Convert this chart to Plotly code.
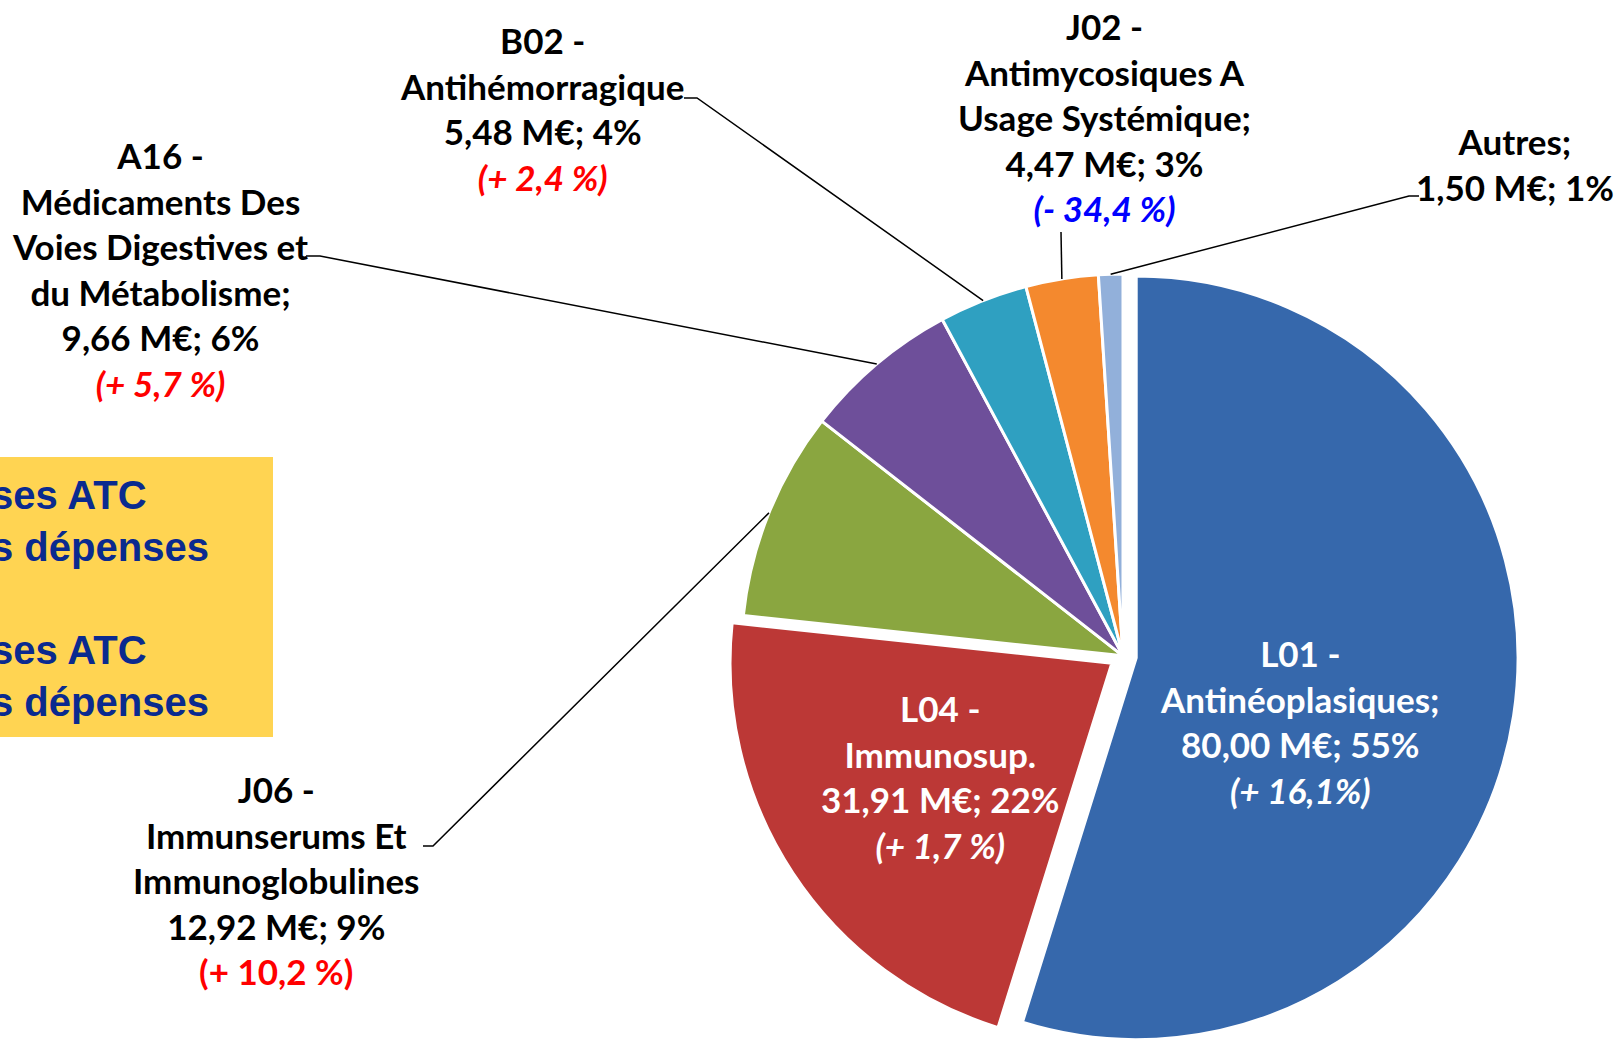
import math

import plotly.graph_objects as go

W, H = 1618, 1051

categories = ["L01", "L04", "J06", "A16", "B02", "J02", "Autres"]
name_lines = [
    ["Antinéoplasiques;"],
    ["Immunosup."],
    ["Immunserums Et", "Immunoglobulines"],
    ["Médicaments Des", "Voies Digestives et", "du Métabolisme;"],
    ["Antihémorragique"],
    ["Antimycosiques A", "Usage Systémique;"],
    ["Autres;"],
]
values = [80.00, 31.91, 12.92, 9.66, 5.48, 4.47, 1.50]
shares = [55, 22, 9, 6, 4, 3, 1]
evolutions = ["(+ 16,1%)", "(+ 1,7 %)", "(+ 10,2 %)", "(+ 5,7 %)", "(+ 2,4 %)", "(- 34,4 %)", ""]
evo_italic = [True, True, False, True, True, True, False]
inside = [True, True, False, False, False, False, False]

colors = ["#3668AC", "#BC3836", "#8AA640", "#6E4F9A", "#2FA0C1", "#F4892E", "#92B0DA"]
pulls = [0.035, 0.035, 0, 0, 0, 0, 0]

# label centres (px from top-left) and leader line anchors on the label side
label_pos = {
    "L01": (1300, 721),
    "L04": (941, 776),
    "J06": (276, 880),
    "A16": (160, 269),
    "B02": (542, 109),
    "J02": (1104, 117),
    "Autres": (1515, 164),
}
leader_start = {
    "J06": [(423, 846), (433, 846)],
    "A16": [(306, 256), (320, 256)],
    "B02": [(684, 98), (697, 98)],
    "J02": [(1061, 232)],
    "Autres": [(1419, 196), (1409, 196)],
}

dom_x = [(1123 - 450) / W, (1123 + 450) / W]
dom_y = [0.0, 0.752]


def px(x, y):
    return x / W, 1 - y / H


fig = go.Figure(
    go.Pie(
        labels=categories,
        values=values,
        sort=False,
        direction="clockwise",
        rotation=0,
        pull=pulls,
        marker=dict(colors=colors, line=dict(color="white", width=3)),
        textinfo="none",
        hoverinfo="label+value",
        domain=dict(x=dom_x, y=dom_y),
        showlegend=False,
    )
)

# pie geometry, same as plotly computes it
cx = (dom_x[0] + dom_x[1]) / 2 * W
cy = H * (1 - (dom_y[0] + dom_y[1]) / 2)
r = min(W * (dom_x[1] - dom_x[0]), H * (dom_y[1] - dom_y[0])) / 2 / (1 + max(pulls))
total = sum(values)

shapes = [
    dict(type="rect", xref="paper", yref="paper", x0=-0.01, x1=273 / W,
         y0=1 - 737 / H, y1=1 - 457 / H, fillcolor="#FFD452", line=dict(width=0), layer="below"),
]
annotations = []

cum = 0.0
for i, cat in enumerate(categories):
    mid = math.radians((cum + values[i] / 2) / total * 360)
    cum += values[i]

    lines = [] if cat == "Autres" else [f"{cat} -"]
    lines += name_lines[i]
    lines.append(f"{values[i]:.2f}".replace(".", ",") + f" M€; {shares[i]}%")
    if inside[i]:
        txt_color, evo_color = "white", "white"
    else:
        txt_color = "black"
        evo_color = "#0000FF" if evolutions[i].startswith("(-") else "#FF0000"
    text = "<br>".join(f"<b>{ln}</b>" for ln in lines)
    if evolutions[i]:
        evo = f"<b>{evolutions[i]}</b>"
        if evo_italic[i]:
            evo = f"<i>{evo}</i>"
        text += f"<br><span style='color:{evo_color}'>{evo}</span>"
    lx, ly = label_pos[cat]
    fx, fy = px(lx, ly)
    annotations.append(dict(
        x=fx, y=fy, xref="paper", yref="paper", text=text, showarrow=False,
        xanchor="center", yanchor="middle", align="center",
        font=dict(family="Lato", size=35, color=txt_color),
    ))

    if cat in leader_start:
        ex = cx + r * math.sin(mid)
        ey = cy - r * math.cos(mid)
        pts = leader_start[cat] + [(ex, ey)]
        path = "M " + " L ".join(f"{px(x, y)[0]},{px(x, y)[1]}" for x, y in pts)
        shapes.append(dict(type="path", xref="paper", yref="paper", path=path,
                           line=dict(color="black", width=1.5)))

# yellow text box, cut off by the left edge as in the original slide
box_font = dict(family="Liberation Sans", size=40, color="#0A2A8F")
for yc in (521, 676):
    annotations.append(dict(
        x=-11 / W, y=1 - yc / H, xref="paper", yref="paper",
        text="<b>ses ATC</b><br><b>s dépenses</b>", showarrow=False,
        xanchor="left", yanchor="middle", align="left", font=box_font,
    ))

fig.update_layout(
    width=W,
    height=H,
    margin=dict(l=0, r=0, t=0, b=0),
    paper_bgcolor="white",
    plot_bgcolor="white",
    shapes=shapes,
    annotations=annotations,
)

fig.write_html(
    "out.html",
    config={"displayModeBar": False},
    post_script="document.body.style.margin='0';",
)
